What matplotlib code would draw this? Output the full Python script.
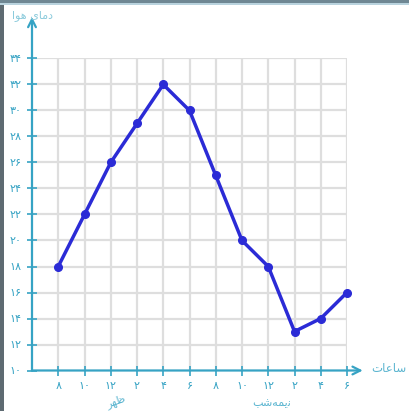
import matplotlib.pyplot as plt
from matplotlib.patches import Rectangle

# ساعت‌ها و دمای هوا
hours = ['8', '10', '12', '2', '4', '6', '8', '10', '12', '2', '4', '6']
temps = [18, 22, 26, 29, 32, 30, 25, 20, 18, 13, 14, 16]
y_ticks = [10, 12, 14, 16, 18, 20, 22, 24, 26, 28, 30, 32, 34]

# persian digits
fa = str.maketrans('0123456789', '۰۱۲۳۴۵۶۷۸۹')

# Persian labels, written in visual order with Arabic presentation forms
# because matplotlib does not shape right-to-left text itself
y_title = '\uFE8D\uFEEE\uFEEB \uFBFC\uFE8E\uFEE3\uFEA9'        # دمای هوا
x_title = '\uFE95\uFE8E\uFECB\uFE8E\uFEB3'                     # ساعات
noon = '\uFEAE\uFEEC\uFEC7'                                    # ظهر
midnight = '\uFE90\uFEB7\uFEEA\uFEE4\uFBFE\uFEE7'              # نیمه‌شب

teal = '#36a3c4'
blue = '#2b2bd6'

W, H = 409, 411
fig = plt.figure(figsize=(W / 100, H / 100), dpi=100)
fig.patch.set_facecolor('white')

# axes box: y axis at px 32, x axis at px 370, grid up to px 347 / 58
ax = fig.add_axes([32 / W, (H - 370.5) / H, (347 - 32) / W, (370.5 - 58.5) / H])
x = list(range(len(hours)))
ax.set_xlim(-1, 11)
ax.set_ylim(10, 34)

ax.set_xticks(x)
ax.set_xticklabels([h.translate(fa) for h in hours])
ax.set_yticks(y_ticks)
ax.set_yticklabels([str(v).translate(fa) for v in y_ticks])
ax.tick_params(direction='inout', length=7, width=1.2, colors=teal,
               labelsize=8, pad=4)

ax.grid(True, color='#dedede', linewidth=1.6)
ax.set_axisbelow(True)
for s in ax.spines.values():
    s.set_visible(False)

# axes with arrows
ax.annotate('', xy=(-1, 37.2), xytext=(-1, 10), annotation_clip=False,
            arrowprops=dict(arrowstyle='->', color=teal, lw=1.6,
                            mutation_scale=14, shrinkA=0, shrinkB=0))
ax.annotate('', xy=(11.6, 10), xytext=(-1, 10), annotation_clip=False,
            arrowprops=dict(arrowstyle='->', color=teal, lw=1.6,
                            mutation_scale=14, shrinkA=0, shrinkB=0))

ax.plot(x, temps, color=blue, lw=2.5, marker='o', markersize=5.5, zorder=5,
        clip_on=False)

# titles
fig.text(12 / W, 1 - 16 / H, y_title, color='#8ccbdc', fontsize=8,
         ha='left', va='center')
fig.text(407 / W, 1 - 368 / H, x_title, color='#5bb5d0', fontsize=8.5,
         ha='right', va='center')
fig.text(116 / W, 1 - 401 / H, noon, color='#5bb5d0', fontsize=8,
         ha='center', va='center', rotation=20)
fig.text(272 / W, 1 - 403 / H, midnight, color='#5bb5d0', fontsize=8,
         ha='center', va='center')

# screenshot frame
fig.add_artist(Rectangle((0, 0), 4 / W, 1, transform=fig.transFigure,
                         color='#5e6b72', lw=0))
fig.add_artist(Rectangle((0, 1 - 3 / H), 1, 3 / H, transform=fig.transFigure,
                         color='#6f8793', lw=0))
fig.add_artist(Rectangle((0, 1 - 5 / H), 1, 2 / H, transform=fig.transFigure,
                         color='#b9d3de', lw=0))

fig.savefig('out.png', dpi=100)
